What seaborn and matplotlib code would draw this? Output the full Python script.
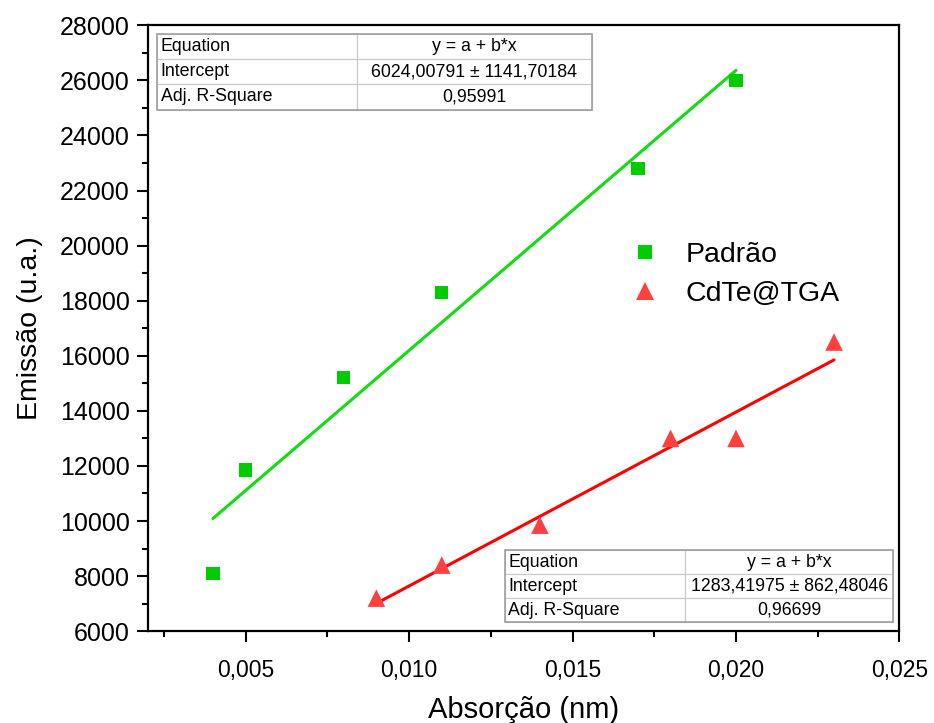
import numpy as np
import pandas as pd
import seaborn as sns
import matplotlib
matplotlib.use("Agg")
import matplotlib.pyplot as plt
from matplotlib.ticker import MultipleLocator, FuncFormatter

# ---- data ----
padrao_x = [0.004, 0.005, 0.008, 0.011, 0.017, 0.020]
padrao_y = [8100, 11850, 15200, 18300, 22800, 26000]
cdte_x = [0.009, 0.011, 0.014, 0.018, 0.020, 0.023]
cdte_y = [7200, 8400, 9850, 13000, 13000, 16500]
series_names = ["Padrão", "CdTe@TGA"]
table_top = [["Equation", "y = a + b*x"],
             ["Intercept", "6024,00791 ± 1141,70184"],
             ["Adj. R-Square", "0,95991"]]
table_bottom = [["Equation", "y = a + b*x"],
                ["Intercept", "1283,41975 ± 862,48046"],
                ["Adj. R-Square", "0,96699"]]

sns.set_style("ticks")
plt.rcParams['font.family'] = ['Liberation Sans', 'DejaVu Sans']
plt.rcParams.update({"text.color": "black", "axes.labelcolor": "black",
                     "xtick.color": "black", "ytick.color": "black",
                     "axes.edgecolor": "black"})

df = pd.DataFrame({
    "x": padrao_x + cdte_x,
    "y": padrao_y + cdte_y,
    "serie": [series_names[0]] * len(padrao_x) + [series_names[1]] * len(cdte_x),
})

fig = plt.figure(figsize=(9.34, 7.23), dpi=100)
ax = fig.add_axes([0.158, 0.127, 0.805, 0.838])

green = "#00CC00"
green_line = "#11DD11"
red_pt = "#FF4040"
red_line = "#FF0000"

sns.regplot(data=df[df.serie == series_names[0]], x="x", y="y", scatter=False, ci=None,
            ax=ax, color=green_line, line_kws=dict(lw=2.2))
sns.regplot(data=df[df.serie == series_names[1]], x="x", y="y", scatter=False, ci=None,
            ax=ax, color=red_line, line_kws=dict(lw=2.2))
sns.scatterplot(data=df, x="x", y="y", hue="serie", style="serie",
                palette={series_names[0]: green, series_names[1]: red_pt},
                markers={series_names[0]: "s", series_names[1]: "^"},
                size="serie", sizes={series_names[0]: 90, series_names[1]: 160},
                edgecolor="none", linewidth=0, ax=ax, zorder=3)

ax.set_xlim(0.002, 0.025)
ax.set_ylim(6000, 28000)
ax.xaxis.set_major_locator(MultipleLocator(0.005))
ax.xaxis.set_minor_locator(MultipleLocator(0.0025))
ax.yaxis.set_major_locator(MultipleLocator(2000))
ax.yaxis.set_minor_locator(MultipleLocator(1000))
ax.xaxis.set_major_formatter(FuncFormatter(lambda v, p: f"{v:.3f}".replace(".", ",")))
ax.yaxis.set_major_formatter(FuncFormatter(lambda v, p: f"{int(round(v))}"))
ax.tick_params(axis="both", which="major", length=8, width=1.5, direction="out")
ax.tick_params(axis="both", which="minor", length=4.5, width=1.5, direction="out")
ax.tick_params(axis="x", labelsize=16.5, pad=12)
ax.tick_params(axis="y", labelsize=18, pad=5)
for s in ax.spines.values():
    s.set_linewidth(1.6)
    s.set_visible(True)
    s.set_color("black")
ax.set_xlabel("Absorção (nm)", fontsize=21, labelpad=10)
ax.set_ylabel("Emissão (u.a.)", fontsize=20.5, labelpad=12)

# legend
h, l = ax.get_legend_handles_labels()
ax.legend(h, l, loc="upper left", bbox_to_anchor=(0.59, 0.685), frameon=False,
          fontsize=20.5, handletextpad=0.4, labelspacing=0.45, markerscale=1.0)

def make_table(rows, bbox, split):
    t = ax.table(cellText=rows, bbox=bbox, colWidths=[split, 1 - split],
                 cellLoc="center", zorder=5)
    t.auto_set_font_size(False)
    for (r, c), cell in t.get_celld().items():
        cell.set_edgecolor("#C8C8C8")
        cell.set_linewidth(0.8)
        cell.set_facecolor("white")
        cell.get_text().set_fontsize(12.8)
        cell.get_text().set_color("black")
        if c == 0:
            cell.get_text().set_ha("left")
            cell._loc = "left"
            cell.PAD = 0.02
    x0, y0, w, hh = bbox
    ax.add_patch(plt.Rectangle((x0, y0), w, hh, transform=ax.transAxes, fill=False,
                               edgecolor="#A0A0A0", lw=1.2, zorder=6))
    return t

make_table(table_top, [0.012, 0.861, 0.579, 0.125], 0.46)
make_table(table_bottom, [0.475, 0.015, 0.517, 0.119], 0.464)

fig.savefig("out.png", dpi=100)
